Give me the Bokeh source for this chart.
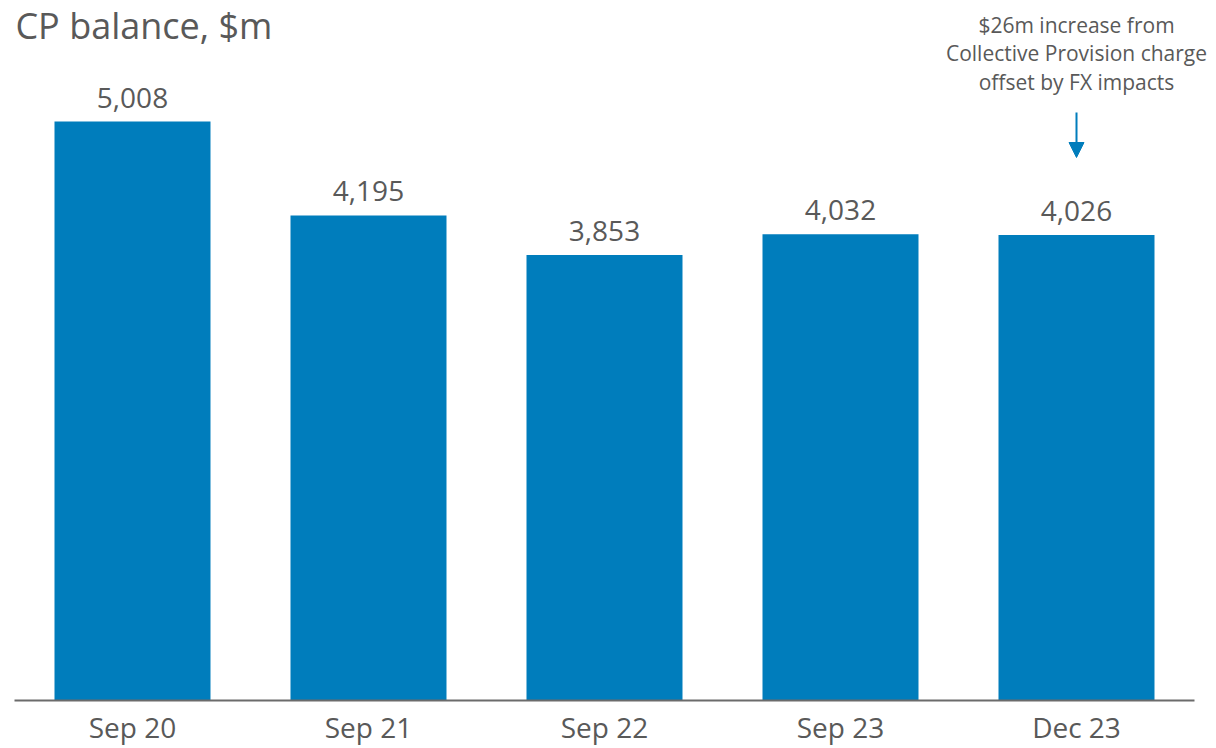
from bokeh.plotting import figure
from bokeh.models import Range1d, Label, ColumnDataSource, Arrow, NormalHead, FixedTicker
from bokeh.core.properties import value
from bokeh.embed import file_html
from bokeh.resources import INLINE

categories = ["Sep 20", "Sep 21", "Sep 22", "Sep 23", "Dec 23"]
balances = [5008, 4195, 3853, 4032, 4026]
value_labels = ["5,008", "4,195", "3,853", "4,032", "4,026"]
title_text = "CP balance, $m"
note_lines = ["$26m increase from", "Collective Provision charge", "offset by FX impacts"]

BLUE = "#007DBC"
GRAY = "#595959"
FONT = "Open Sans"

FRAME_H = 700
UPP = 5008 / 579.0          # data units per pixel (vertical)
Y_END = FRAME_H * UPP
CAT_PX = 236.0              # pixels per category slot
FRAME_W = 1216 - 14
X_END = FRAME_W / CAT_PX

xs = [i + 0.5 for i in range(len(categories))]
src = ColumnDataSource(dict(x=xs, val=balances, lab=value_labels))

p = figure(width=1216, height=748, x_range=Range1d(0, X_END), y_range=Range1d(0, Y_END),
           output_backend="svg", toolbar_location=None,
           min_border_left=14, min_border_right=0, min_border_top=0, min_border_bottom=48)
p.outline_line_color = None
p.xgrid.visible = False
p.ygrid.visible = False
p.yaxis.visible = False

p.vbar(x="x", top="val", width=0.661, source=src, color=BLUE, line_color=None)
p.text(x="x", y="val", text="lab", source=src, y_offset=-24,
       text_align="center", text_baseline="alphabetic",
       text_font=value(FONT), text_font_size="28px", text_color=GRAY)

ax = p.xaxis[0]
ax.bounds = (0, len(categories))
ax.ticker = FixedTicker(ticks=xs)
ax.major_label_overrides = {x: c for x, c in zip(xs, categories)}
ax.axis_line_color = "#6b6b6b"
ax.axis_line_width = 2
ax.major_tick_line_color = None
ax.minor_tick_line_color = None
ax.major_tick_out = 0
ax.major_tick_in = 0
ax.major_label_standoff = 7
ax.major_label_text_font = FONT
ax.major_label_text_font_size = "28px"
ax.major_label_text_color = GRAY


def y_at(px_from_top):
    return (FRAME_H - px_from_top) * UPP


p.add_layout(Label(x=0.004, y=y_at(24.5), text=title_text,
                   text_font=FONT, text_font_size="36px", text_color=GRAY,
                   text_align="left", text_baseline="alphabetic"))

for i, line in enumerate(note_lines):
    p.add_layout(Label(x=xs[-1], y=y_at(24 + 28.5 * i), text=line,
                       text_font=FONT, text_font_size="21px", text_color=GRAY,
                       text_align="center", text_baseline="alphabetic"))

p.add_layout(Arrow(end=NormalHead(size=15, fill_color=BLUE, line_color=BLUE),
                   x_start=xs[-1], y_start=y_at(112),
                   x_end=xs[-1], y_end=y_at(157),
                   line_color=BLUE, line_width=2))

open("out.html", "w").write(file_html(p, INLINE))
